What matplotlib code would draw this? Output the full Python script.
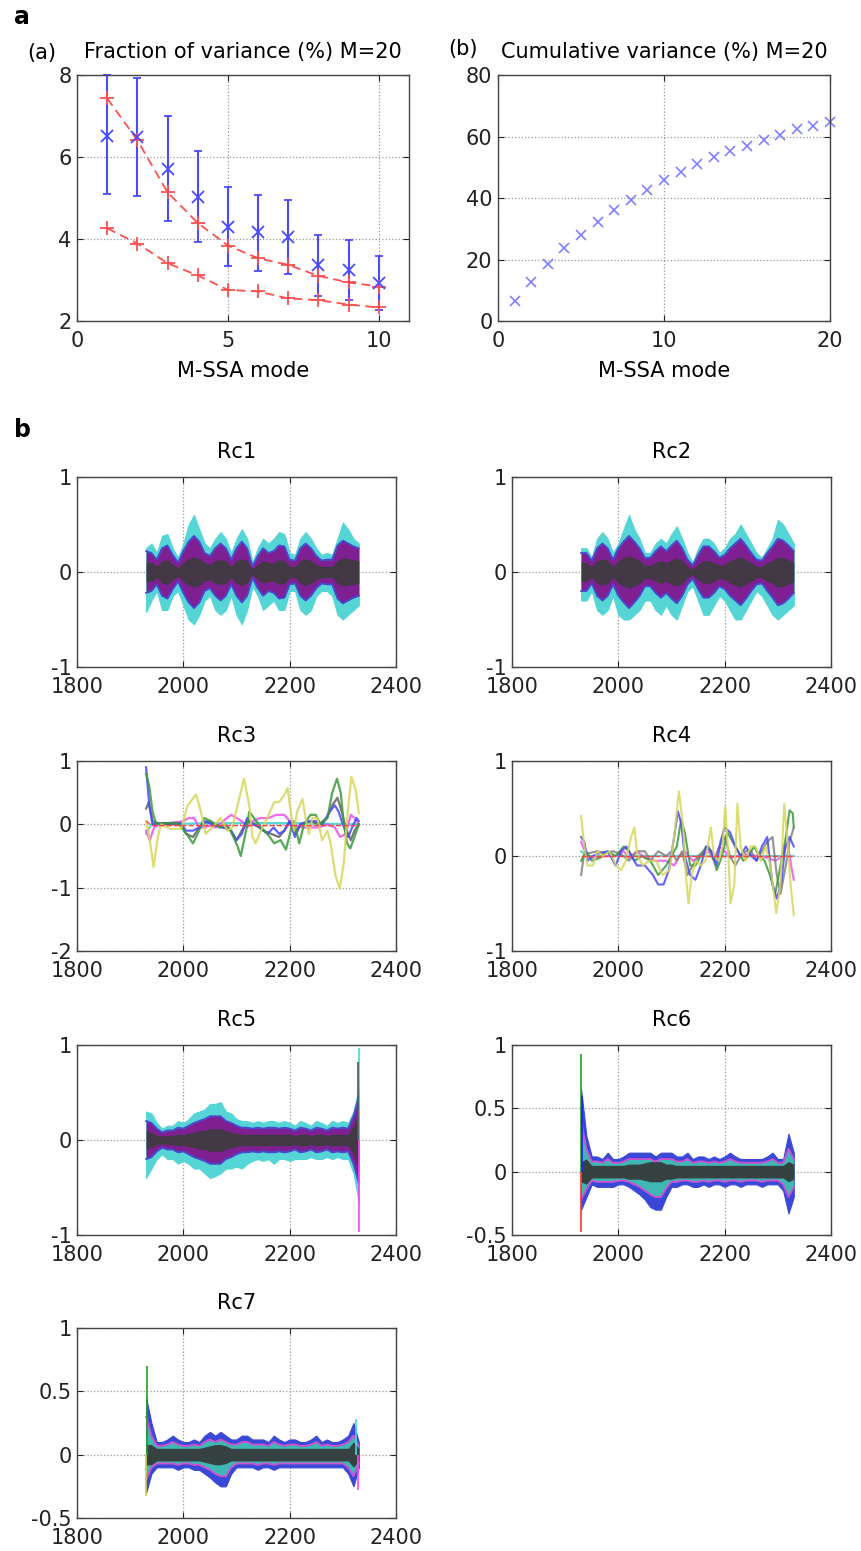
import matplotlib
matplotlib.use('Agg')
import matplotlib.pyplot as plt

# ---- panel a: fraction of variance ----
modesA = [1, 2, 3, 4, 5, 6, 7, 8, 9, 10]
fracMean = [6.51, 6.49, 5.71, 5.02, 4.30, 4.16, 4.04, 3.37, 3.25, 2.93]
fracHigh = [8.00, 7.93, 7.00, 6.15, 5.27, 5.08, 4.95, 4.10, 3.98, 3.58]
fracLow = [5.09, 5.04, 4.45, 3.92, 3.35, 3.22, 3.14, 2.60, 2.51, 2.27]
redUpper = [7.43, 6.41, 5.14, 4.39, 3.84, 3.53, 3.37, 3.10, 2.94, 2.84]
redLower = [4.26, 3.89, 3.41, 3.11, 2.76, 2.72, 2.55, 2.51, 2.40, 2.33]

# ---- panel b: cumulative variance ----
modesB = list(range(1, 21))
cumVar = [6.6, 12.7, 18.4, 23.6, 27.9, 32.2, 36.2, 39.3, 42.7, 45.7,
          48.3, 51.0, 53.2, 55.2, 57.0, 58.9, 60.5, 62.3, 63.5, 64.8]

# ---- reconstructed components, envelopes read every 10 years ----
years10 = list(range(1930, 2331, 10))

rc1Up = [0.25, 0.30, 0.20, 0.38, 0.40, 0.25, 0.15, 0.30, 0.50, 0.60, 0.45,
         0.30, 0.25, 0.35, 0.42, 0.35, 0.20, 0.35, 0.45, 0.35, 0.10,
         0.25, 0.35, 0.30, 0.35, 0.42, 0.40, 0.20, 0.18, 0.35, 0.42,
         0.35, 0.25, 0.18, 0.20, 0.18, 0.35, 0.52, 0.45, 0.35, 0.30]
rc1Low = [-0.42, -0.30, -0.20, -0.40, -0.40, -0.25, -0.20, -0.35, -0.50, -0.55, -0.45,
          -0.30, -0.25, -0.40, -0.45, -0.40, -0.25, -0.45, -0.55, -0.40, -0.15,
          -0.25, -0.40, -0.35, -0.30, -0.40, -0.40, -0.20, -0.20, -0.40, -0.45,
          -0.40, -0.25, -0.20, -0.20, -0.25, -0.45, -0.50, -0.45, -0.40, -0.35]
rc1Mid = [0.22, 0.20, 0.13, 0.25, 0.28, 0.18, 0.10, 0.22, 0.32, 0.38, 0.32,
          0.20, 0.17, 0.25, 0.30, 0.25, 0.13, 0.25, 0.32, 0.25, 0.06,
          0.17, 0.25, 0.20, 0.22, 0.28, 0.27, 0.13, 0.12, 0.25, 0.30,
          0.25, 0.17, 0.12, 0.13, 0.13, 0.28, 0.33, 0.30, 0.27, 0.25]
rc1Dark = [0.10, 0.10, 0.06, 0.12, 0.13, 0.08, 0.05, 0.10, 0.14, 0.16, 0.14,
           0.10, 0.08, 0.12, 0.13, 0.12, 0.06, 0.12, 0.14, 0.12, 0.03,
           0.08, 0.12, 0.10, 0.10, 0.13, 0.12, 0.06, 0.06, 0.12, 0.14,
           0.12, 0.08, 0.06, 0.06, 0.06, 0.12, 0.15, 0.14, 0.13, 0.12]

rc2Up = [0.25, 0.25, 0.15, 0.35, 0.42, 0.35, 0.20, 0.30, 0.45, 0.60, 0.45,
         0.35, 0.20, 0.20, 0.30, 0.35, 0.30, 0.40, 0.48, 0.35, 0.20,
         0.10, 0.25, 0.35, 0.35, 0.30, 0.20, 0.25, 0.35, 0.40, 0.50,
         0.40, 0.30, 0.20, 0.15, 0.25, 0.35, 0.55, 0.50, 0.40, 0.30]
rc2Low = [-0.30, -0.30, -0.20, -0.40, -0.45, -0.40, -0.25, -0.45, -0.50, -0.50, -0.45,
          -0.40, -0.30, -0.30, -0.40, -0.45, -0.35, -0.45, -0.50, -0.35, -0.20,
          -0.15, -0.30, -0.45, -0.45, -0.35, -0.25, -0.30, -0.40, -0.50, -0.50,
          -0.40, -0.30, -0.20, -0.25, -0.35, -0.45, -0.50, -0.45, -0.40, -0.35]
rc2Mid = [0.20, 0.20, 0.12, 0.25, 0.30, 0.25, 0.13, 0.25, 0.32, 0.38, 0.32,
          0.25, 0.15, 0.15, 0.22, 0.27, 0.22, 0.28, 0.33, 0.25, 0.13,
          0.07, 0.18, 0.27, 0.27, 0.22, 0.15, 0.18, 0.25, 0.30, 0.35,
          0.28, 0.20, 0.13, 0.12, 0.20, 0.27, 0.35, 0.33, 0.28, 0.22]
rc2Dark = [0.10, 0.10, 0.06, 0.12, 0.14, 0.12, 0.06, 0.12, 0.15, 0.17, 0.15,
           0.12, 0.07, 0.07, 0.10, 0.12, 0.10, 0.13, 0.15, 0.12, 0.06,
           0.03, 0.08, 0.12, 0.12, 0.10, 0.07, 0.08, 0.12, 0.14, 0.16,
           0.13, 0.10, 0.06, 0.06, 0.10, 0.12, 0.16, 0.15, 0.13, 0.10]

rc5Up = [0.30, 0.28, 0.18, 0.12, 0.15, 0.15, 0.20, 0.18, 0.22, 0.28, 0.30,
         0.32, 0.38, 0.38, 0.40, 0.30, 0.28, 0.22, 0.20, 0.20, 0.18,
         0.20, 0.18, 0.20, 0.20, 0.18, 0.20, 0.18, 0.15, 0.20, 0.18,
         0.15, 0.20, 0.18, 0.15, 0.20, 0.18, 0.20, 0.18, 0.30, 0.55]
rc5Low = [-0.40, -0.30, -0.20, -0.15, -0.20, -0.20, -0.25, -0.22, -0.25, -0.30, -0.30,
          -0.35, -0.40, -0.38, -0.35, -0.30, -0.30, -0.28, -0.30, -0.25, -0.22,
          -0.20, -0.22, -0.20, -0.25, -0.20, -0.20, -0.22, -0.20, -0.20, -0.20,
          -0.18, -0.20, -0.20, -0.18, -0.20, -0.18, -0.20, -0.20, -0.35, -0.65]
rc5Mid = [0.20, 0.18, 0.12, 0.08, 0.10, 0.10, 0.13, 0.12, 0.15, 0.18, 0.20,
          0.22, 0.25, 0.25, 0.25, 0.20, 0.18, 0.15, 0.13, 0.13, 0.12,
          0.13, 0.12, 0.13, 0.13, 0.12, 0.13, 0.12, 0.10, 0.13, 0.12,
          0.10, 0.13, 0.12, 0.10, 0.13, 0.12, 0.13, 0.12, 0.25, 0.45]
rc5Dark = [0.10, 0.08, 0.05, 0.04, 0.05, 0.05, 0.06, 0.06, 0.07, 0.08, 0.10,
           0.10, 0.12, 0.12, 0.12, 0.10, 0.08, 0.07, 0.06, 0.06, 0.06,
           0.06, 0.06, 0.06, 0.06, 0.06, 0.06, 0.06, 0.05, 0.06, 0.06,
           0.05, 0.06, 0.06, 0.05, 0.06, 0.06, 0.06, 0.06, 0.15, 0.30]

rc6Up = [0.65, 0.28, 0.12, 0.12, 0.10, 0.15, 0.10, 0.10, 0.12, 0.15, 0.15,
         0.15, 0.15, 0.15, 0.12, 0.15, 0.15, 0.15, 0.12, 0.12, 0.15,
         0.10, 0.12, 0.12, 0.10, 0.12, 0.10, 0.12, 0.15, 0.12, 0.10,
         0.10, 0.10, 0.10, 0.10, 0.12, 0.15, 0.10, 0.10, 0.30, 0.15]
rc6Low = [-0.30, -0.20, -0.10, -0.12, -0.12, -0.12, -0.12, -0.10, -0.10, -0.12, -0.15,
          -0.18, -0.22, -0.28, -0.30, -0.30, -0.20, -0.12, -0.12, -0.10, -0.10,
          -0.12, -0.12, -0.10, -0.12, -0.10, -0.10, -0.12, -0.10, -0.10, -0.12,
          -0.10, -0.10, -0.10, -0.12, -0.10, -0.10, -0.10, -0.15, -0.33, -0.20]
rc6MidUp = [0.40, 0.18, 0.08, 0.08, 0.07, 0.10, 0.07, 0.07, 0.08, 0.10, 0.10,
            0.10, 0.10, 0.10, 0.08, 0.10, 0.10, 0.10, 0.08, 0.08, 0.10,
            0.07, 0.08, 0.08, 0.07, 0.08, 0.07, 0.08, 0.10, 0.08, 0.07,
            0.07, 0.07, 0.07, 0.07, 0.08, 0.10, 0.07, 0.07, 0.18, 0.10]
rc6MidLow = [-0.22, -0.14, -0.07, -0.08, -0.08, -0.08, -0.08, -0.07, -0.07, -0.08, -0.10,
             -0.12, -0.15, -0.18, -0.20, -0.20, -0.13, -0.08, -0.08, -0.07, -0.07,
             -0.08, -0.08, -0.07, -0.08, -0.07, -0.07, -0.08, -0.07, -0.07, -0.08,
             -0.07, -0.07, -0.07, -0.08, -0.07, -0.07, -0.07, -0.10, -0.20, -0.12]
rc6Dark = [0.08, 0.10, 0.05, 0.05, 0.05, 0.05, 0.05, 0.05, 0.05, 0.06, 0.06,
           0.06, 0.07, 0.08, 0.08, 0.08, 0.06, 0.06, 0.05, 0.05, 0.05,
           0.05, 0.05, 0.05, 0.05, 0.05, 0.05, 0.05, 0.05, 0.05, 0.05,
           0.05, 0.05, 0.05, 0.05, 0.05, 0.05, 0.05, 0.05, 0.08, 0.06]

rc7Up = [0.45, 0.25, 0.10, 0.10, 0.12, 0.15, 0.12, 0.10, 0.10, 0.12, 0.10,
         0.15, 0.18, 0.15, 0.18, 0.15, 0.12, 0.12, 0.15, 0.15, 0.12,
         0.12, 0.12, 0.10, 0.15, 0.12, 0.10, 0.12, 0.12, 0.10, 0.10,
         0.12, 0.15, 0.10, 0.12, 0.10, 0.10, 0.12, 0.15, 0.25, 0.10]
rc7Low = [-0.30, -0.15, -0.10, -0.10, -0.10, -0.10, -0.12, -0.10, -0.10, -0.12, -0.12,
          -0.15, -0.18, -0.22, -0.25, -0.25, -0.15, -0.10, -0.10, -0.10, -0.10,
          -0.12, -0.10, -0.10, -0.12, -0.10, -0.10, -0.10, -0.10, -0.10, -0.10,
          -0.10, -0.10, -0.10, -0.10, -0.10, -0.10, -0.10, -0.15, -0.25, -0.10]
rc7MidUp = [0.30, 0.15, 0.07, 0.07, 0.08, 0.10, 0.08, 0.07, 0.07, 0.08, 0.07,
            0.10, 0.12, 0.10, 0.12, 0.10, 0.08, 0.08, 0.10, 0.10, 0.08,
            0.08, 0.08, 0.07, 0.10, 0.08, 0.07, 0.08, 0.08, 0.07, 0.07,
            0.08, 0.10, 0.07, 0.08, 0.07, 0.07, 0.08, 0.10, 0.15, 0.07]
rc7MidLow = [-0.20, -0.10, -0.07, -0.07, -0.07, -0.07, -0.08, -0.07, -0.07, -0.08, -0.08,
             -0.10, -0.12, -0.15, -0.17, -0.17, -0.10, -0.07, -0.07, -0.07, -0.07,
             -0.08, -0.07, -0.07, -0.08, -0.07, -0.07, -0.07, -0.07, -0.07, -0.07,
             -0.07, -0.07, -0.07, -0.07, -0.07, -0.07, -0.07, -0.10, -0.17, -0.07]
rc7Dark = [0.08, 0.08, 0.05, 0.05, 0.05, 0.05, 0.05, 0.05, 0.05, 0.05, 0.05,
           0.06, 0.07, 0.08, 0.08, 0.07, 0.05, 0.05, 0.05, 0.05, 0.05,
           0.05, 0.05, 0.05, 0.05, 0.05, 0.05, 0.05, 0.05, 0.05, 0.05,
           0.05, 0.05, 0.05, 0.05, 0.05, 0.05, 0.05, 0.05, 0.10, 0.05]

# single spikes at the ends (year, top value, colour)
rc5Spikes = [(2330, 0.97, '#40d8d8'), (2330, -0.97, '#ff40ff'), (2329, 0.82, '#555555')]
rc6Spikes = [(1930, 0.93, '#22a022'), (1930, -0.48, '#ff3030'), (1932, 0.60, '#2020ff')]
rc7Spikes = [(1932, 0.70, '#22a022'), (1930, -0.33, '#d0d040'), (2325, 0.28, '#40d8d8'),
             (2328, -0.28, '#ff40ff')]

# ---- Rc3 smooth lines ----
rc3Yellow = ([1930, 1936, 1944, 1952, 1958, 1975, 1996, 2008, 2024, 2033, 2042, 2055, 2070, 2083, 2092,
              2102, 2114, 2124, 2130, 2136, 2146, 2158, 2171, 2180, 2189, 2196, 2202, 2208, 2214, 2224,
              2230, 2236, 2243, 2252, 2261, 2271, 2277, 2286, 2294, 2302, 2308, 2316, 2324, 2330],
             [0.05, -0.2, -0.67, -0.2, 0.0, -0.07, -0.07, 0.3, 0.47, 0.2, -0.15, -0.05, 0.1, -0.1, -0.05,
              0.3, 0.72, 0.3, -0.2, -0.3, -0.1, 0.1, 0.35, 0.35, 0.45, 0.57, 0.2, -0.1, 0.2, 0.4,
              0.1, -0.15, 0.1, 0.1, -0.25, -0.1, -0.3, -0.8, -1.02, -0.6, 0.1, 0.75, 0.55, 0.18])
rc3Green = ([1930, 1936, 1942, 1949, 1960, 1990, 2002, 2018, 2027, 2039, 2052, 2068, 2077, 2089, 2102,
             2108, 2118, 2124, 2133, 2146, 2158, 2171, 2183, 2193, 2202, 2208, 2218, 2227, 2239, 2249,
             2258, 2271, 2280, 2289, 2296, 2302, 2308, 2314, 2322, 2330],
            [0.8, 0.6, 0.2, 0.0, 0.02, 0.02, -0.1, -0.3, -0.15, 0.1, 0.05, -0.05, 0.0, -0.1, -0.35,
             -0.5, -0.1, 0.2, 0.1, -0.05, -0.15, -0.3, -0.25, -0.4, -0.1, 0.05, -0.3, 0.0, 0.15, 0.15,
             0.0, 0.1, 0.5, 0.72, 0.5, 0.0, -0.3, -0.38, -0.2, 0.0])
rc3Blue = ([1930, 1936, 1942, 1960, 1995, 2005, 2018, 2030, 2040, 2055, 2070, 2085, 2100, 2110, 2120,
            2130, 2145, 2158, 2170, 2180, 2190, 2200, 2210, 2220, 2235, 2250, 2262, 2275, 2285, 2292,
            2300, 2310, 2320, 2326, 2330],
           [0.9, 0.3, 0.0, 0.02, 0.02, -0.1, -0.1, -0.05, 0.05, 0.0, -0.05, -0.05, -0.25, -0.15, 0.1,
            0.0, -0.05, -0.15, -0.05, -0.15, -0.1, 0.05, -0.2, 0.0, 0.05, 0.05, 0.0, 0.2, 0.3, 0.2,
            0.0, -0.2, 0.0, 0.1, 0.05])
rc3Gray = ([1930, 1935, 1942, 1960, 1995, 2005, 2018, 2030, 2045, 2060, 2075, 2090, 2100, 2110, 2120,
            2135, 2150, 2165, 2180, 2190, 2200, 2210, 2220, 2240, 2255, 2270, 2280, 2290, 2298, 2305,
            2315, 2322, 2330],
           [0.25, 0.35, 0.05, 0.0, 0.0, -0.15, -0.2, -0.05, 0.05, 0.0, -0.05, -0.1, -0.25, -0.1, 0.05,
            0.0, -0.1, -0.15, -0.2, -0.1, 0.05, -0.15, 0.0, 0.05, 0.0, 0.1, 0.3, 0.42, 0.2, -0.05,
            -0.25, -0.1, 0.0])
rc3Magenta = ([1930, 1937, 1945, 1955, 2000, 2010, 2020, 2030, 2040, 2050, 2060, 2075, 2090, 2100, 2110,
               2120, 2130, 2145, 2160, 2175, 2190, 2200, 2210, 2225, 2240, 2255, 2270, 2285, 2295, 2305,
               2315, 2322, 2330],
              [-0.1, -0.25, -0.05, 0.0, 0.05, 0.1, 0.1, -0.05, -0.05, -0.02, -0.05, 0.05, 0.15, 0.1, 0.05,
               -0.05, 0.05, 0.1, 0.1, 0.15, 0.15, 0.05, -0.02, -0.05, -0.05, -0.05, 0.0, -0.05, -0.2, -0.15,
               0.15, 0.1, 0.0])
rc3Cyan = ([1930, 1940, 1980, 2100, 2200, 2330], [-0.15, 0.0, 0.01, 0.02, 0.02, 0.0])
rc3Red = ([1930, 1940, 2330], [0.05, -0.02, -0.02])

# ---- Rc4 smooth lines ----
rc4Yellow = ([1930, 1936, 1942, 1952, 1961, 1971, 1983, 1996, 2005, 2014, 2024, 2030, 2036, 2046, 2058,
              2071, 2083, 2096, 2105, 2114, 2122, 2127, 2132, 2138, 2146, 2155, 2164, 2174, 2180, 2189,
              2196, 2201, 2207, 2211, 2218, 2224, 2230, 2239, 2249, 2258, 2268, 2277, 2286, 2297, 2305,
              2312, 2319, 2324, 2330],
             [0.42, 0.1, -0.1, -0.1, 0.05, 0.0, 0.05, -0.1, -0.15, -0.05, 0.2, 0.3, 0.0, -0.1, -0.05,
              -0.05, -0.2, -0.15, 0.2, 0.68, 0.3, -0.2, -0.5, -0.2, -0.05, -0.1, -0.05, 0.3, 0.0, -0.05,
              0.1, 0.52, 0.0, -0.5, -0.3, 0.55, 0.1, -0.05, 0.1, 0.1, -0.05, 0.1, -0.1, -0.6, -0.3,
              0.55, 0.1, -0.3, -0.62])
rc4Blue = ([1930, 1936, 1942, 1952, 1965, 1980, 1995, 2005, 2015, 2025, 2035, 2050, 2065, 2075, 2085,
            2095, 2105, 2112, 2118, 2125, 2135, 2145, 2155, 2165, 2175, 2185, 2192, 2200, 2210, 2220,
            2230, 2240, 2250, 2260, 2270, 2280, 2290, 2298, 2306, 2314, 2322, 2330],
           [0.2, 0.15, -0.05, 0.0, 0.03, 0.05, -0.1, 0.05, 0.1, 0.0, -0.1, -0.1, -0.2, -0.3, -0.3,
            -0.15, 0.2, 0.47, 0.35, 0.0, -0.2, -0.25, -0.1, 0.1, 0.05, -0.1, 0.15, 0.3, 0.25, 0.1,
            0.0, 0.1, 0.0, -0.05, 0.1, 0.2, -0.3, -0.45, -0.3, 0.1, 0.2, 0.1])
rc4Green = ([1930, 1940, 1950, 1965, 1980, 1995, 2010, 2020, 2030, 2045, 2060, 2075, 2090, 2100, 2110,
             2118, 2125, 2135, 2145, 2155, 2165, 2175, 2185, 2195, 2205, 2215, 2225, 2235, 2245, 2255,
             2265, 2275, 2285, 2295, 2305, 2315, 2322, 2328, 2330],
            [-0.05, 0.05, -0.05, -0.02, 0.05, 0.0, 0.1, 0.05, -0.05, 0.0, -0.05, -0.2, -0.1, 0.0, 0.1,
             0.38, 0.25, -0.1, -0.1, 0.0, 0.1, 0.05, -0.15, 0.0, 0.25, 0.15, 0.05, -0.05, 0.0, 0.1,
             0.0, -0.05, -0.2, -0.4, -0.1, 0.2, 0.48, 0.45, 0.3])
rc4Gray = ([1930, 1935, 1945, 1960, 1975, 1990, 2005, 2020, 2035, 2050, 2060, 2075, 2090, 2100, 2110,
            2120, 2130, 2140, 2150, 2160, 2170, 2180, 2190, 2200, 2210, 2220, 2230, 2240, 2250, 2260,
            2270, 2280, 2290, 2298, 2305, 2315, 2322, 2330],
           [-0.2, 0.0, 0.03, 0.05, 0.03, 0.05, 0.02, -0.05, 0.05, 0.05, -0.05, 0.05, 0.0, 0.05, -0.05,
            0.05, -0.2, -0.1, 0.0, 0.05, 0.1, -0.05, 0.1, 0.2, 0.0, -0.1, 0.0, 0.05, 0.05, -0.05,
            0.05, 0.15, 0.2, -0.2, -0.4, -0.1, 0.15, 0.3])
rc4Magenta = ([1930, 1940, 1955, 1975, 1995, 2010, 2020, 2035, 2050, 2070, 2090, 2105, 2115, 2125, 2140,
               2155, 2170, 2180, 2190, 2200, 2210, 2225, 2240, 2260, 2280, 2295, 2310, 2318, 2325, 2330],
              [0.15, 0.0, -0.02, 0.0, 0.0, 0.05, -0.02, 0.05, -0.02, -0.05, -0.05, -0.1, 0.0, 0.05, -0.05,
               0.0, 0.05, -0.05, 0.1, 0.05, -0.02, 0.0, 0.02, 0.0, -0.02, -0.05, 0.0, 0.15, -0.1, -0.25])
rc4Cyan = ([1930, 1940, 2330], [0.05, 0.0, 0.0])
rc4Red = ([1930, 2330], [0.0, 0.0])

W, H = 861, 1551
fig = plt.figure(figsize=(W / 100, H / 100), dpi=100)
plt.rcParams['font.family'] = 'DejaVu Sans'


def makeAxes(l, t, r, b):
    ax = fig.add_axes([l / W, 1 - b / H, (r - l) / W, (b - t) / H])
    for s in ax.spines.values():
        s.set_color('#444444')
        s.set_linewidth(1.0)
    ax.tick_params(direction='in', top=True, right=True, length=4, width=0.8,
                   labelsize=15, colors='#222222')
    ax.tick_params(axis='x', pad=7.5)
    ax.tick_params(axis='y', pad=4)
    ax.grid(True, linestyle=':', color='#999999', linewidth=0.9)
    ax.set_axisbelow(True)
    return ax


def drawBand(ax, up, low, midUp, midLow, dark, cols):
    ax.fill_between(years10, low, up, color=cols[0], linewidth=0.8)
    ax.fill_between(years10, midLow, midUp, color=cols[1], linewidth=0)
    ax.plot(years10, midUp, color=cols[2], lw=1.3)
    ax.plot(years10, midLow, color=cols[2], lw=1.3)
    ax.fill_between(years10, [-d for d in dark], dark, color=cols[3], linewidth=0, alpha=0.9)


def rcAxes(l, t, r, b, name, ylim, yticks, ylabels):
    ax = makeAxes(l, t, r, b)
    ax.set_xlim(1800, 2400)
    ax.set_xticks([1800, 2000, 2200, 2400])
    ax.set_ylim(*ylim)
    ax.set_yticks(yticks)
    ax.set_yticklabels(ylabels)
    ax.set_title(name, fontsize=15, pad=14)
    return ax


# panel (a)
ax = makeAxes(77, 75, 409, 321)
errLow = [m - lo for m, lo in zip(fracMean, fracLow)]
errHigh = [hi - m for m, hi in zip(fracMean, fracHigh)]
ax.errorbar(modesA, fracMean, yerr=[errLow, errHigh], fmt='x', color='#4a4aff',
            ecolor='#4a4aff', elinewidth=1.5, capsize=3, capthick=1.2, ms=8, mew=1.3, clip_on=False)
ax.plot(modesA, redUpper, '--', marker='+', color='#ff5050', lw=1.3, ms=10, mew=1.3, dashes=(5, 3))
ax.plot(modesA, redLower, '--', marker='+', color='#ff5050', lw=1.3, ms=10, mew=1.3, dashes=(5, 3))
ax.set_xlim(0, 11)
ax.set_ylim(2, 8)
ax.set_xticks([0, 5, 10])
ax.set_yticks([2, 4, 6, 8])
ax.set_xlabel('M-SSA mode', fontsize=15, labelpad=7)
ax.set_title('Fraction of variance (%) M=20', fontsize=15, pad=12)
fig.text(27 / W, 1 - 53 / H, '(a)', fontsize=15, va='center', ha='left')

# panel (b)
ax = makeAxes(498, 75, 830, 321)
ax.plot(modesB, cumVar, 'x', color='#8080ff', ms=7, mew=1.2, clip_on=False)
ax.set_xlim(0, 20)
ax.set_ylim(0, 80)
ax.set_xticks([0, 10, 20])
ax.set_yticks([0, 20, 40, 60, 80])
ax.set_xlabel('M-SSA mode', fontsize=15, labelpad=7)
ax.set_title('Cumulative variance (%) M=20', fontsize=15, pad=12)
fig.text(448 / W, 1 - 49 / H, '(b)', fontsize=15, va='center', ha='left')

fig.text(14 / W, 1 - 17 / H, 'a', fontsize=17, fontweight='bold', va='center')
fig.text(14 / W, 1 - 430 / H, 'b', fontsize=17, fontweight='bold', va='center')

noisyCols = ['#55d5d5', '#7e1f92', '#4848d0', '#3c3c3c']
lateCols = ['#3a48d8', '#3fb8b4', '#d050d0', '#353535']

# Rc1
ax = rcAxes(77, 477, 396, 667, 'Rc1', (-1, 1), [-1, 0, 1], ['-1', '0', '1'])
drawBand(ax, rc1Up, rc1Low, rc1Mid, [-m for m in rc1Mid], rc1Dark, noisyCols)

# Rc2
ax = rcAxes(512, 477, 831, 667, 'Rc2', (-1, 1), [-1, 0, 1], ['-1', '0', '1'])
drawBand(ax, rc2Up, rc2Low, rc2Mid, [-m for m in rc2Mid], rc2Dark, noisyCols)

# Rc3
ax = rcAxes(77, 761, 396, 951, 'Rc3', (-2, 1), [-2, -1, 0, 1], ['-2', '-1', '0', '1'])
for line, c in [(rc3Cyan, '#40d0d0'), (rc3Magenta, '#f050f0'), (rc3Gray, '#606060'),
                (rc3Blue, '#4848ff'), (rc3Green, '#3a9a3a'), (rc3Yellow, '#d6d65a')]:
    ax.plot(line[0], line[1], color=c, lw=1.6, alpha=0.85)
ax.plot(rc3Red[0], rc3Red[1], '--', color='#ff4040', lw=1.0)

# Rc4
ax = rcAxes(512, 761, 831, 951, 'Rc4', (-1, 1), [-1, 0, 1], ['-1', '0', '1'])
for line, c in [(rc4Cyan, '#40d0d0'), (rc4Magenta, '#f050f0'), (rc4Gray, '#808080'),
                (rc4Green, '#3a9a3a'), (rc4Blue, '#4848ff'), (rc4Yellow, '#d6d65a')]:
    ax.plot(line[0], line[1], color=c, lw=1.5, alpha=0.85)
ax.plot(rc4Red[0], rc4Red[1], '--', color='#ff4040', lw=1.0)

# Rc5
ax = rcAxes(77, 1045, 396, 1235, 'Rc5', (-1, 1), [-1, 0, 1], ['-1', '0', '1'])
drawBand(ax, rc5Up, rc5Low, rc5Mid, [-m for m in rc5Mid], rc5Dark, noisyCols)
for x, top, c in rc5Spikes:
    ax.vlines(x, 0, top, color=c, lw=1.2)

# Rc6
ax = rcAxes(512, 1045, 831, 1235, 'Rc6', (-0.5, 1), [-0.5, 0, 0.5, 1], ['-0.5', '0', '0.5', '1'])
drawBand(ax, rc6Up, rc6Low, rc6MidUp, rc6MidLow, rc6Dark, lateCols)
for x, top, c in rc6Spikes:
    ax.vlines(x, 0, top, color=c, lw=1.2)

# Rc7
ax = rcAxes(77, 1328, 396, 1518, 'Rc7', (-0.5, 1), [-0.5, 0, 0.5, 1], ['-0.5', '0', '0.5', '1'])
drawBand(ax, rc7Up, rc7Low, rc7MidUp, rc7MidLow, rc7Dark, lateCols)
for x, top, c in rc7Spikes:
    ax.vlines(x, 0, top, color=c, lw=1.2)

fig.savefig('out.png', dpi=100)
